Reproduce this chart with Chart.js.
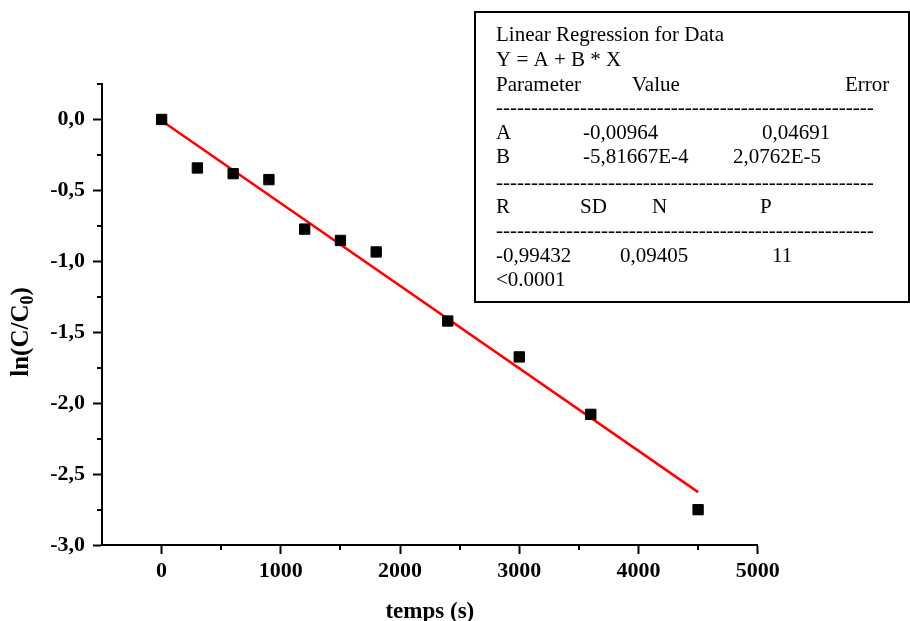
<!DOCTYPE html>
<html>
<head>
<meta charset="utf-8">
<script src="https://cdn.jsdelivr.net/npm/chart.js@4.4.1/dist/chart.umd.min.js"></script>
<style>
  html, body { margin: 0; padding: 0; background: #fff; }
  #wrap { width: 910px; height: 621px; position: relative; }
</style>
</head>
<body>
<div id="wrap"><canvas id="c" width="910" height="621"></canvas></div>
<script>
// ---- data ----
const timeValues = [0, 300, 600, 900, 1200, 1500, 1800, 2400, 3000, 3600, 4500];
const lnValues   = [0, -0.342, -0.382, -0.424, -0.773, -0.853, -0.934, -1.421, -1.674, -2.079, -2.751];
const fitTime    = [0, 4500];
const fitLn      = [-0.00964, -2.62714];
const xMajorTicks = [0, 1000, 2000, 3000, 4000, 5000];
const xMinorTicks = [500, 1500, 2500, 3500, 4500];
const yMajorTicks = [0, -0.5, -1.0, -1.5, -2.0, -2.5, -3.0];
const yMinorTicks = [0.25, -0.25, -0.75, -1.25, -1.75, -2.25, -2.75];
const xTitle = 'temps (s)';
const yTitleMain = 'ln(C/C';
const yTitleSub = '0';
const yTitleEnd = ')';
const statsRows = [
  ['Linear Regression for Data'],
  ['Y = A + B * X'],
  ['Parameter', 'Value', 'Error'],
  ['------------------------------------------------------'],
  ['A', '-0,00964', '0,04691'],
  ['B', '-5,81667E-4', '2,0762E-5'],
  ['------------------------------------------------------'],
  ['R', 'SD', 'N', 'P'],
  ['------------------------------------------------------'],
  ['-0,99432', '0,09405', '11'],
  ['<0.0001']
];

// ---- layout / style (not data) ----
const SERIF = '"Liberation Serif", "Times New Roman", serif';
const statsColX = [
  [496], [496], [496, 632, 845], [496],
  [496, 583, 762], [496, 583, 733], [496],
  [496, 580, 652, 760], [496],
  [496, 620, 772], [496]
];
const statsRowY = [35, 60, 85, 108, 133, 157, 183, 207, 231, 256, 280];

const pts = timeValues.map((x, i) => ({x: x, y: lnValues[i]}));
const fitPts = fitTime.map((x, i) => ({x: x, y: fitLn[i]}));

const extrasPlugin = {
  id: 'extras',
  afterDraw(chart) {
    const ctx = chart.ctx;
    const xs = chart.scales.x, ys = chart.scales.y;
    const area = chart.chartArea;
    ctx.save();
    // minor ticks
    ctx.strokeStyle = '#000';
    ctx.lineWidth = 2;
    ctx.beginPath();
    xMinorTicks.forEach(v => {
      const px = Math.round(xs.getPixelForValue(v));
      ctx.moveTo(px, area.bottom);
      ctx.lineTo(px, area.bottom + 5);
    });
    yMinorTicks.forEach(v => {
      const py = Math.round(ys.getPixelForValue(v));
      ctx.moveTo(area.left, py);
      ctx.lineTo(area.left - 5, py);
    });
    ctx.stroke();

    // y title with subscript
    const fMain = 'bold 25px ' + SERIF;
    const fSub = 'bold 18px ' + SERIF;
    ctx.font = fMain;
    const w1 = ctx.measureText(yTitleMain).width;
    const w3 = ctx.measureText(yTitleEnd).width;
    ctx.font = fSub;
    const w2 = ctx.measureText(yTitleSub).width;
    const total = w1 + w2 + w3;
    ctx.translate(22, 332);
    ctx.rotate(-Math.PI / 2);
    ctx.fillStyle = '#000';
    ctx.textBaseline = 'middle';
    ctx.textAlign = 'left';
    let cx = -total / 2;
    ctx.font = fMain;
    ctx.fillText(yTitleMain, cx, 0);
    cx += w1;
    ctx.font = fSub;
    ctx.fillText(yTitleSub, cx, 6);
    cx += w2;
    ctx.font = fMain;
    ctx.fillText(yTitleEnd, cx, 0);
    ctx.setTransform(1, 0, 0, 1, 0, 0);

    // stats box
    ctx.fillStyle = '#fff';
    ctx.fillRect(475, 12, 434, 290);
    ctx.strokeStyle = '#000';
    ctx.lineWidth = 2;
    ctx.strokeRect(475, 12, 434, 290);
    ctx.fillStyle = '#000';
    ctx.font = '21px ' + SERIF;
    ctx.textBaseline = 'middle';
    ctx.textAlign = 'left';
    statsRows.forEach((row, r) => {
      row.forEach((txt, c) => {
        ctx.fillText(txt, statsColX[r][c], statsRowY[r]);
      });
    });
    ctx.restore();
  }
};

const fmtY = v => {
  if (Math.abs(v) < 1e-9) return '0,0';
  return v.toFixed(1).replace('.', ',');
};

new Chart(document.getElementById('c'), {
  type: 'scatter',
  data: {
    datasets: [
      {
        label: 'fit',
        type: 'line',
        data: fitPts,
        borderColor: '#ff0000',
        borderWidth: 2.5,
        pointRadius: 0,
        fill: false,
        tension: 0,
        order: 2
      },
      {
        label: 'data',
        data: pts,
        pointStyle: 'rect',
        pointRadius: 7.3,
        pointHoverRadius: 7.3,
        backgroundColor: '#000',
        borderColor: '#000',
        borderWidth: 1,
        clip: false,
        order: 1
      }
    ]
  },
  options: {
    responsive: false,
    animation: false,
    events: [],
    layout: { padding: { left: 0, top: 84, right: 152.3, bottom: 0 } },
    plugins: { legend: { display: false }, tooltip: { enabled: false } },
    scales: {
      x: {
        type: 'linear',
        min: -500,
        max: 5000,
        afterBuildTicks: s => { s.ticks = xMajorTicks.map(v => ({value: v})); },
        afterFit: s => { s.height = 76; },
        border: { display: true, color: '#000', width: 2 },
        grid: { display: true, drawOnChartArea: false, drawTicks: true, tickLength: 9, tickColor: '#000', tickWidth: 2 },
        ticks: {
          color: '#000',
          padding: 4,
          maxRotation: 0,
          autoSkip: false,
          font: { family: SERIF, size: 22, weight: 'bold' },
          callback: v => String(v)
        },
        title: {
          display: true,
          text: xTitle,
          color: '#000',
          font: { family: SERIF, size: 23, weight: 'bold', lineHeight: 0.8 },
          padding: { top: 0, bottom: 0 }
        }
      },
      y: {
        type: 'linear',
        min: -3.0,
        max: 0.25,
        afterBuildTicks: s => { s.ticks = yMajorTicks.map(v => ({value: v})); },
        afterFit: s => { s.width = 102; },
        border: { display: true, color: '#000', width: 2 },
        grid: { display: true, drawOnChartArea: false, drawTicks: true, tickLength: 9, tickColor: '#000', tickWidth: 2 },
        ticks: {
          color: '#000',
          padding: 8,
          autoSkip: false,
          font: { family: SERIF, size: 22, weight: 'bold' },
          callback: v => fmtY(v)
        }
      }
    }
  },
  plugins: [extrasPlugin]
});
</script>
</body>
</html>
